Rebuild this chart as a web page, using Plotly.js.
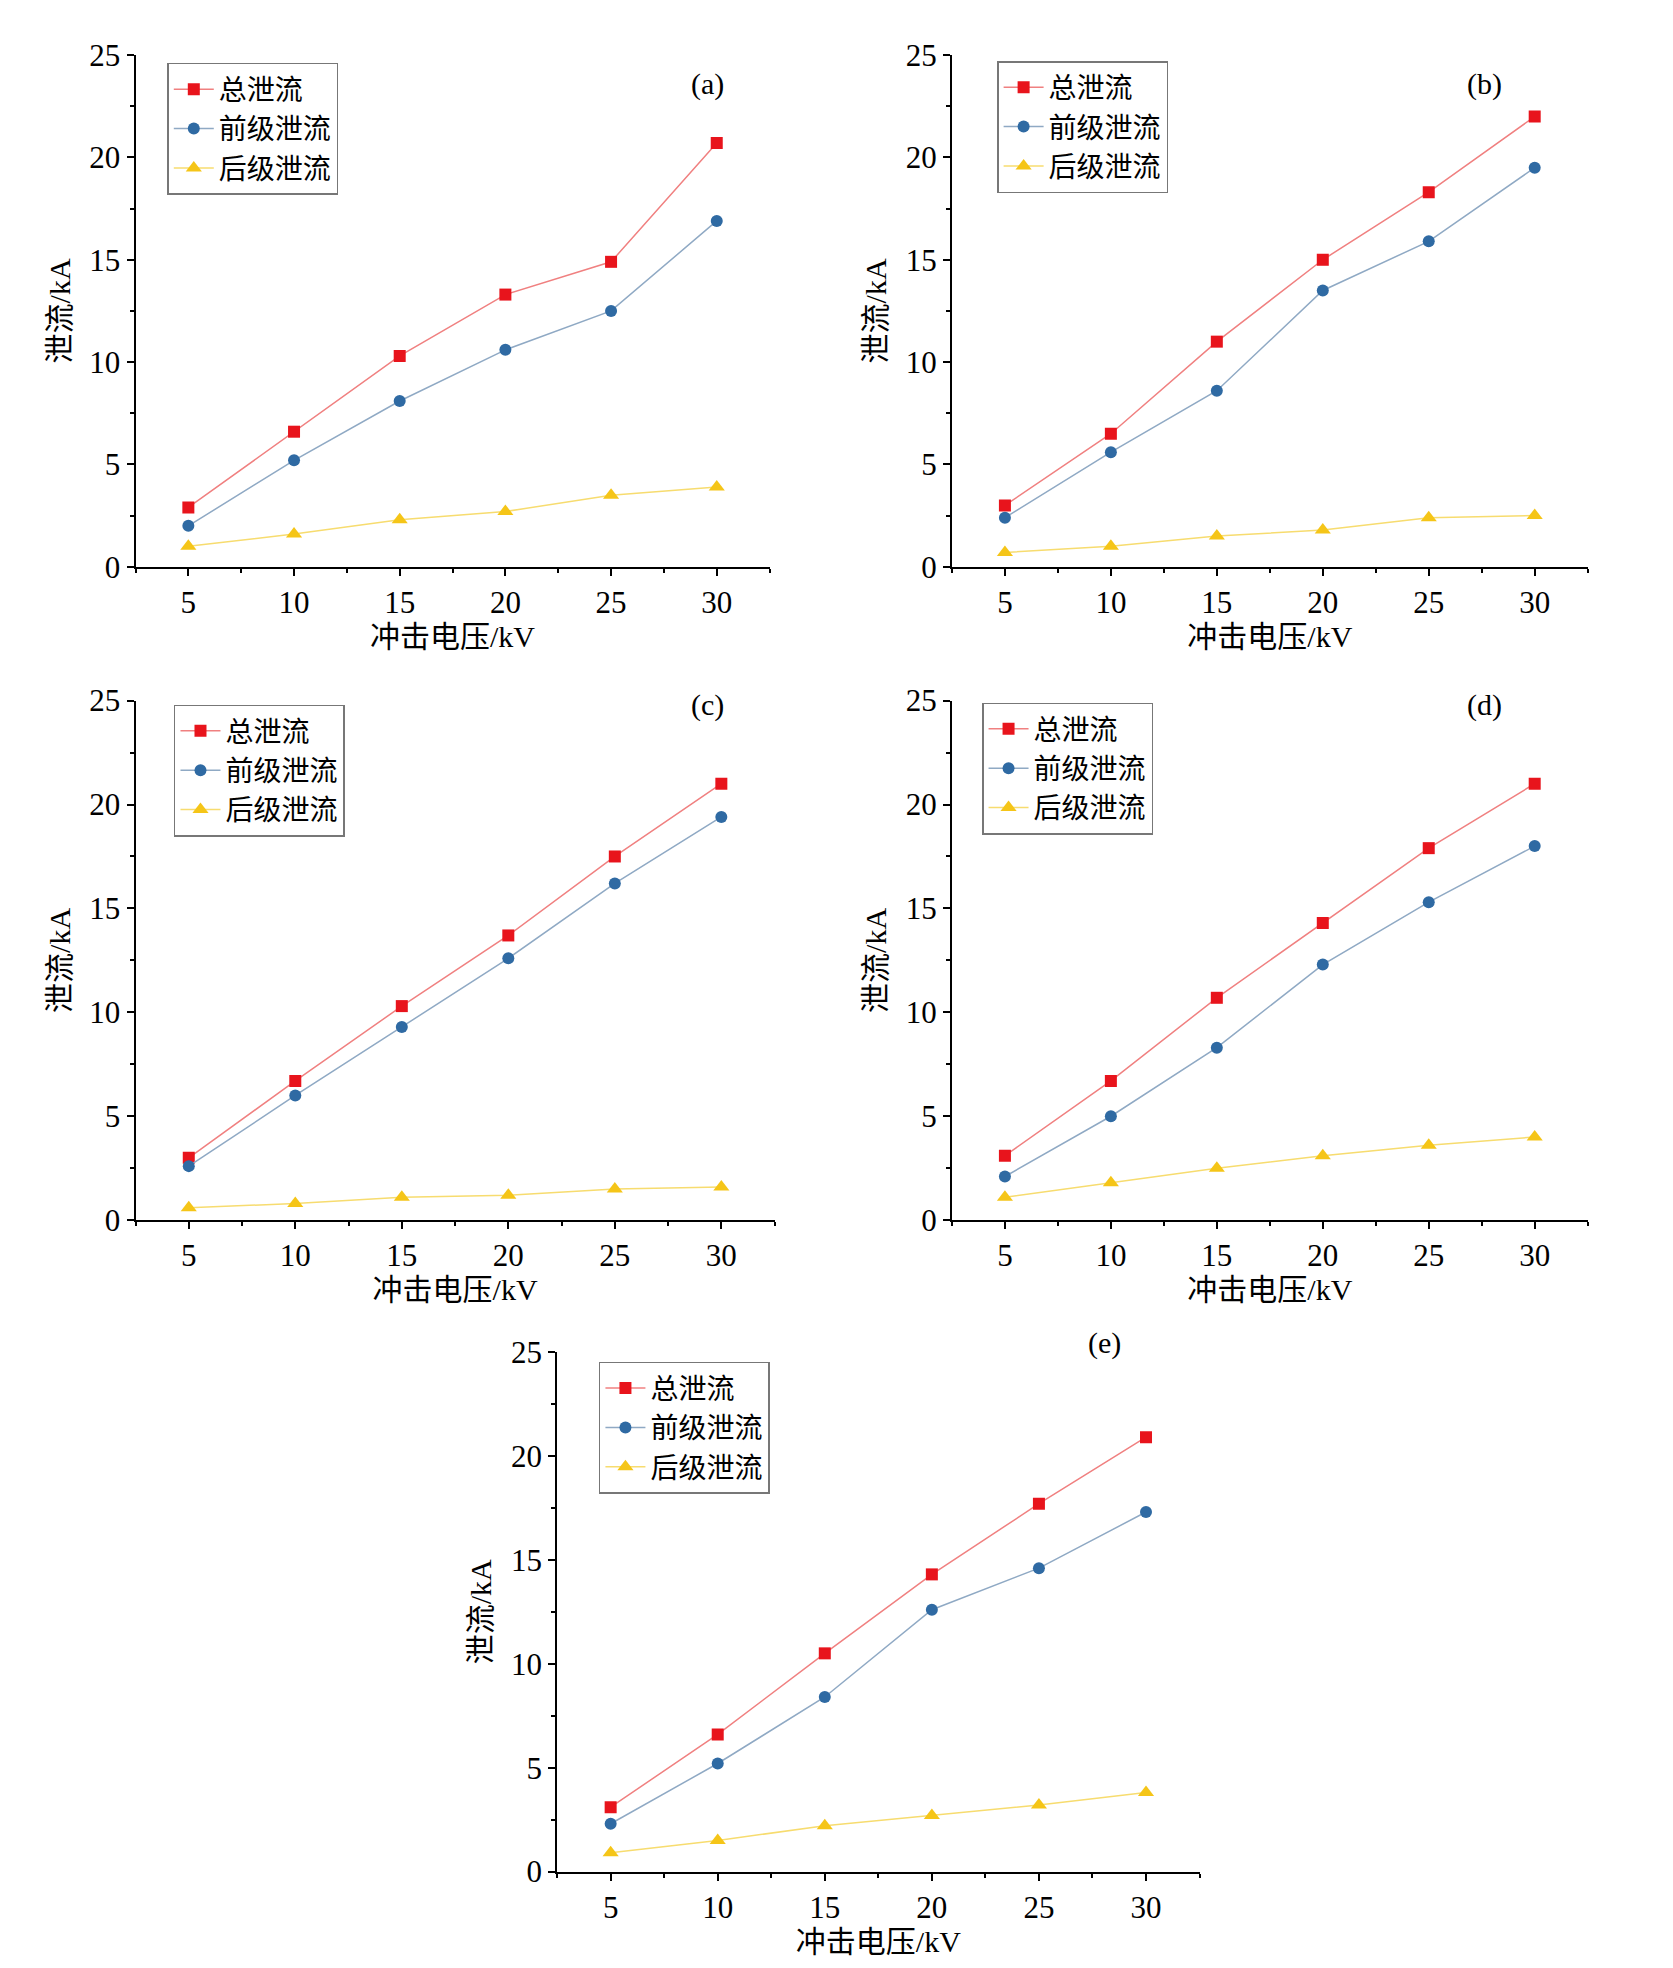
<!DOCTYPE html>
<html><head><meta charset="utf-8">
<script src="https://cdn.plot.ly/plotly-3.0.1.min.js"></script>
<style>body{margin:0;background:#fff}</style>
</head><body><div id="c" style="width:1673px;height:1968px"></div>
<script>
const voltage = [5,10,15,20,25,30];
const seriesNames = ['总泄流','前级泄流','后级泄流'];
const panelLabels = ['(a)','(b)','(c)','(d)','(e)'];
const totalA=[2.9,6.6,10.3,13.3,14.9,20.7], frontA=[2.0,5.2,8.1,10.6,12.5,16.9], backA=[1.0,1.6,2.3,2.7,3.5,3.9];
const totalB=[3.0,6.5,11.0,15.0,18.3,22.0], frontB=[2.4,5.6,8.6,13.5,15.9,19.5], backB=[0.7,1.0,1.5,1.8,2.4,2.5];
const totalC=[3.0,6.7,10.3,13.7,17.5,21.0], frontC=[2.6,6.0,9.3,12.6,16.2,19.4], backC=[0.6,0.8,1.1,1.2,1.5,1.6];
const totalD=[3.1,6.7,10.7,14.3,17.9,21.0], frontD=[2.1,5.0,8.3,12.3,15.3,18.0], backD=[1.1,1.8,2.5,3.1,3.6,4.0];
const totalE=[3.1,6.6,10.5,14.3,17.7,20.9], frontE=[2.3,5.2,8.4,12.6,14.6,17.3], backE=[0.9,1.5,2.2,2.7,3.2,3.8];
const data=[[totalA,frontA,backA],[totalB,frontB,backB],[totalC,frontC,backC],[totalD,frontD,backD],[totalE,frontE,backE]];

const xdom=[[0.081,0.460],[0.569,0.949],[0.081,0.463],[0.569,0.949],[0.333,0.717]];
const ydomFix=[[0.712,0.972],[0.712,0.972],[0.380,0.644],[0.380,0.644],[0.049,0.313]];
const legPos=[[0.100,0.968],[0.596,0.969],[0.104,0.642],[0.587,0.643],[0.358,0.308]];
const labPos=[[0.423,0.967],[0.899,0.967],[0.423,0.642],[0.899,0.642],[0.671,0.308]];
const colors=['#e8141c','#2f6aa3','#f5c518'];
const lineColors=['#f08080','#8fa9c4','#f7dc6f'];
const symbols=['square','circle','triangle-up'];
const msizes=[12,12,14];
const serif='"Liberation Serif", "Times New Roman", serif';
const cjk='"Liberation Serif", "Noto Sans CJK SC", serif';

const traces=[]; const layout={width:1673,height:1968,paper_bgcolor:'#fff',plot_bgcolor:'#fff',
 margin:{l:0,r:0,t:0,b:0},annotations:[],font:{family:cjk,color:'#000'}};
for(let p=0;p<5;p++){
  const sfx=p===0?'':String(p+1);
  const lg=p===0?'legend':'legend'+(p+1);
  for(let s=0;s<3;s++){
    traces.push({x:voltage,y:data[p][s],name:seriesNames[s],type:'scatter',mode:'lines+markers',
      xaxis:'x'+sfx,yaxis:'y'+sfx,legend:lg,
      line:{color:lineColors[s],width:1.5},marker:{color:colors[s],symbol:symbols[s],size:msizes[s]}});
  }
  const ax={showline:true,linecolor:'#000',linewidth:2,ticks:'outside',ticklen:7,tickwidth:2,tickcolor:'#000',
    showgrid:false,zeroline:false,tickfont:{family:serif,size:31,color:'#000'}};
  layout['xaxis'+sfx]=Object.assign({},ax,{domain:xdom[p],range:[2.5,32.5],tickvals:voltage,
    minor:{ticks:'outside',ticklen:4,tickwidth:1.5,tickcolor:'#000',dtick:5,tick0:2.5},
    anchor:'y'+sfx,title:{text:'冲击电压/kV',font:{family:cjk,size:30,color:'#000'},standoff:4}});
  layout['yaxis'+sfx]=Object.assign({},ax,{domain:ydomFix[p],range:[0,25],dtick:5,
    minor:{ticks:'outside',ticklen:4,tickwidth:1.5,tickcolor:'#000',dtick:2.5},
    anchor:'x'+sfx,title:{text:'泄流/kA',font:{family:cjk,size:30,color:'#000'},standoff:10}});
  layout[lg]={x:legPos[p][0],y:legPos[p][1],xanchor:'left',yanchor:'top',bgcolor:'#fff',
    bordercolor:'#777',borderwidth:1.5,font:{family:cjk,size:28,color:'#000'},tracegroupgap:0,itemwidth:40};
  layout.annotations.push({xref:'paper',yref:'paper',x:labPos[p][0],y:labPos[p][1],text:panelLabels[p],
    showarrow:false,font:{family:serif,size:30,color:'#000'}});
}
Plotly.newPlot('c',traces,layout,{displayModeBar:false});
</script></body></html>
